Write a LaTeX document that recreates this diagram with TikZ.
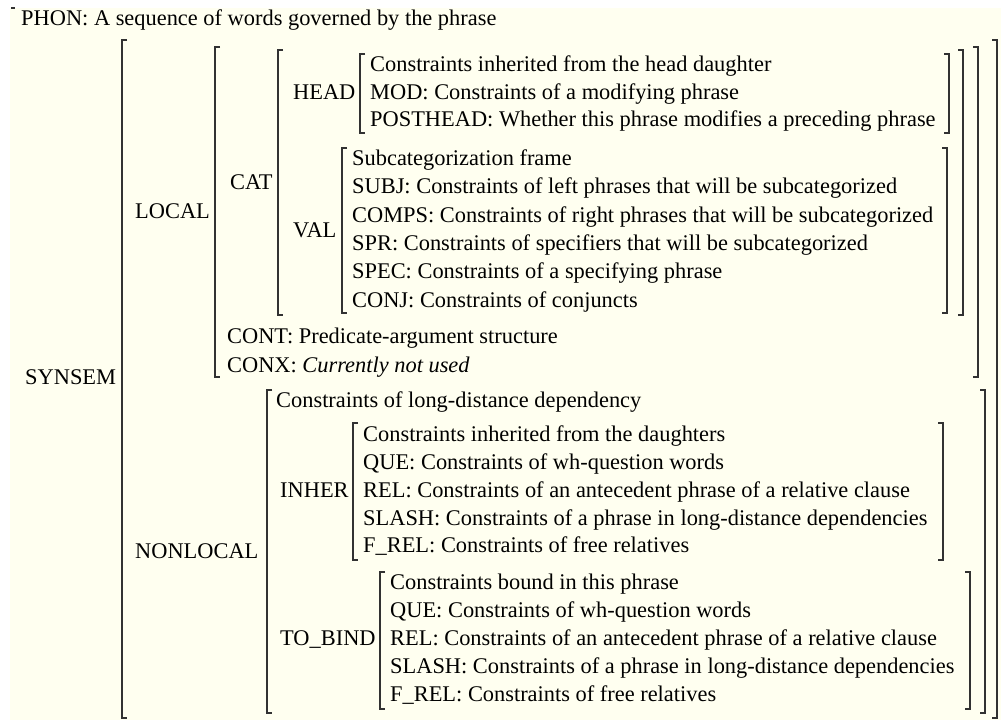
\documentclass[tikz,border=0pt]{standalone}
\usepackage{fontspec}
\setmainfont{Liberation Serif}
\definecolor{cream}{RGB}{255,255,240}
\definecolor{brk}{RGB}{50,50,50}
\newcommand\lbrk[3]{\draw[bracket] (#1+5,#2) -- (#1,#2) -- (#1,#3) -- (#1+5,#3);}
\newcommand\rbrk[3]{\draw[bracket] (#1-5,#2) -- (#1,#2) -- (#1,#3) -- (#1-5,#3);}
\begin{document}
\begin{tikzpicture}[x=1pt,y=-1pt,
  txt/.style={anchor=base west,inner sep=0pt,font=\fontsize{22.4}{26}\selectfont},
  bracket/.style={draw=brk,line width=1.3pt}]
\useasboundingbox (0,0) rectangle (1001,720);
\fill[white] (0,0) rectangle (1001,720);
\fill[cream] (10,8) rectangle (1001,720);
\draw[bracket] (11,8) -- (15,8);
% PHON
\node[txt] (phon) at (21,25) {PHON: A sequence of words governed by the phrase};
% SYNSEM
\node[txt] (synsem) at (25,384) {SYNSEM};
\lbrk{122}{40}{718}
\rbrk{997}{40}{718}
% LOCAL
\node[txt] (local) at (135,218) {LOCAL};
\lbrk{215}{47}{377}
\rbrk{978}{47}{377}
% CAT
\node[txt] (cat) at (230,189) {CAT};
\lbrk{278}{50}{315}
\rbrk{963}{50}{315}
% HEAD
\node[txt] (head) at (293,99) {HEAD};
\lbrk{360}{54}{133}
\rbrk{949}{54}{133}
\node[txt] (h1) at (370,71) {Constraints inherited from the head daughter};
\node[txt] (h2) at (370,99) {MOD: Constraints of a modifying phrase};
\node[txt] (h3) at (370,126) {POSTHEAD: Whether this phrase modifies a preceding phrase};
% VAL
\node[txt] (val) at (293,237) {VAL};
\lbrk{342}{148}{313}
\rbrk{947}{148}{313}
\node[txt] (v1) at (352,165) {Subcategorization frame};
\node[txt] (v2) at (352,193) {SUBJ: Constraints of left phrases that will be subcategorized};
\node[txt] (v3) at (352,222) {COMPS: Constraints of right phrases that will be subcategorized};
\node[txt] (v4) at (352,250) {SPR: Constraints of specifiers that will be subcategorized};
\node[txt] (v5) at (352,278) {SPEC: Constraints of a specifying phrase};
\node[txt] (v6) at (352,307) {CONJ: Constraints of conjuncts};
% CONT / CONX
\node[txt] (cont) at (227,343) {CONT: Predicate-argument structure};
\node[txt] (conx) at (227,372) {CONX: \textit{Currently not used}};
% NONLOCAL
\node[txt] (nonlocal) at (135,558) {NONLOCAL};
\lbrk{267}{390}{713}
\rbrk{985}{390}{713}
\node[txt] (nl1) at (276,407) {Constraints of long-distance dependency};
% INHER
\node[txt] (inher) at (280,497) {INHER};
\lbrk{353}{423}{560}
\rbrk{943}{423}{560}
\node[txt] (i1) at (363,441) {Constraints inherited from the daughters};
\node[txt] (i2) at (363,469) {QUE: Constraints of wh-question words};
\node[txt] (i3) at (363,497) {REL: Constraints of an antecedent phrase of a relative clause};
\node[txt] (i4) at (363,525) {SLASH: Constraints of a phrase in long-distance dependencies};
\node[txt] (i5) at (363,552) {F\_REL: Constraints of free relatives};
% TO_BIND
\node[txt] (tobind) at (280,645) {TO\_BIND};
\lbrk{380}{572}{709}
\rbrk{970}{572}{709}
\node[txt] (t1) at (390,589) {Constraints bound in this phrase};
\node[txt] (t2) at (390,617) {QUE: Constraints of wh-question words};
\node[txt] (t3) at (390,645) {REL: Constraints of an antecedent phrase of a relative clause};
\node[txt] (t4) at (390,673) {SLASH: Constraints of a phrase in long-distance dependencies};
\node[txt] (t5) at (390,701) {F\_REL: Constraints of free relatives};
\end{tikzpicture}
\end{document}
